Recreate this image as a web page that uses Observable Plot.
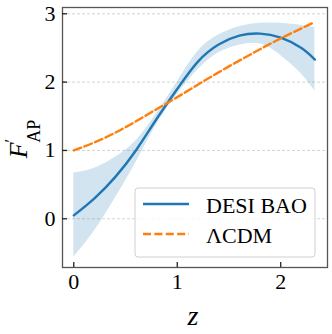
<!DOCTYPE html>
<html>
<head>
<meta charset="utf-8">
<script src="https://cdn.jsdelivr.net/npm/d3@7"></script>
<script src="https://cdn.jsdelivr.net/npm/@observablehq/plot@0.6"></script>
<style>
  html, body { margin: 0; padding: 0; background: #fff; }
  #chart { width: 332px; height: 334px; }
  #chart svg text { font-family: "Liberation Serif", serif; }
</style>
</head>
<body>
<div id="chart"></div>
<script>
// Reconstructed F'_AP(z): DESI BAO reconstruction (mean and band) vs ΛCDM
const zDesi = [0, 0.2, 0.4, 0.6, 0.8, 1.0, 1.2, 1.4, 1.6, 1.8, 2.0, 2.2, 2.33];
const desiMean = [0.05, 0.30, 0.61, 1.00, 1.46, 1.90, 2.30, 2.55, 2.68, 2.71, 2.65, 2.50, 2.33];
const desiLow = [-0.56, -0.18, 0.30, 0.82, 1.38, 1.82, 2.18, 2.43, 2.54, 2.56, 2.39, 2.12, 1.87];
const desiHigh = [0.67, 0.74, 0.90, 1.14, 1.54, 2.00, 2.45, 2.69, 2.81, 2.86, 2.86, 2.83, 2.80];
const zLcdm = [0, 0.25, 0.5, 0.75, 1.0, 1.25, 1.5, 1.75, 2.0, 2.33];
const lcdmVals = [1.00, 1.15, 1.34, 1.56, 1.78, 2.01, 2.23, 2.44, 2.64, 2.88];
const xTicks = [0, 1, 2];
const yTicks = [0, 1, 2, 3];
const seriesNames = ["DESI BAO", "ΛCDM"];

const desi = zDesi.map((z, i) => ({z, mean: desiMean[i], lo: desiLow[i], hi: desiHigh[i]}));
const lcdm = zLcdm.map((z, i) => ({z, v: lcdmVals[i]}));

const BLUE = "#1f77b4", ORANGE = "#ff7f0e";
const DASH = "8,3.4";
const W = 332, H = 334, ML = 62, MR = 5, MT = 7, MB = 67;
const FONT = "Liberation Serif";

const plot = Plot.plot({
  width: W,
  height: H,
  marginLeft: ML,
  marginRight: MR,
  marginTop: MT,
  marginBottom: MB,
  style: {fontFamily: FONT, fontSize: "22px", color: "#000", background: "#fff"},
  x: {domain: [-0.109, 2.452]},
  y: {domain: [-0.713, 3.092]},
  marks: [
    Plot.gridY(yTicks, {stroke: "#bbb", strokeOpacity: 0.8, strokeWidth: 0.8, strokeDasharray: "3,2"}),
    Plot.areaY(desi, {x: "z", y1: "lo", y2: "hi", fill: BLUE, fillOpacity: 0.2, curve: "natural"}),
    Plot.line(desi, {x: "z", y: "mean", stroke: BLUE, strokeWidth: 2.4, curve: "natural"}),
    Plot.line(lcdm, {x: "z", y: "v", stroke: ORANGE, strokeWidth: 2.4, strokeDasharray: DASH, curve: "natural"}),
    Plot.frame({stroke: "#555", strokeWidth: 1.3}),
    Plot.axisX({ticks: xTicks, tickSize: -5, tickPadding: 11, tickFormat: d => String(d), label: null, fontSize: 22, stroke: "#222", strokeWidth: 1.3}),
    Plot.axisY({ticks: yTicks, tickSize: -5, tickPadding: 12, tickFormat: d => String(d), label: null, fontSize: 22, stroke: "#222", strokeWidth: 1.3})
  ]
});

document.getElementById("chart").appendChild(plot);

const svg = d3.select(plot);

// x label
svg.append("text")
  .attr("x", 193).attr("y", 325)
  .attr("text-anchor", "middle")
  .attr("font-family", FONT).attr("font-style", "italic").attr("font-size", 28)
  .attr("fill", "#000")
  .text("z");

// y label F'_AP
const yl = svg.append("text")
  .attr("transform", "translate(27,139) rotate(-90)")
  .attr("text-anchor", "middle")
  .attr("font-family", FONT).attr("fill", "#000");
yl.append("tspan").attr("font-style", "italic").attr("font-size", 26).text("F");
yl.append("tspan").attr("font-size", 17).attr("dy", -11).text("′");
yl.append("tspan").attr("font-size", 18).attr("dx", -4).attr("dy", 24).text("AP");

// legend
const lg = svg.append("g");
lg.append("rect")
  .attr("x", 135).attr("y", 188).attr("width", 180).attr("height", 69)
  .attr("rx", 3).attr("fill", "#fff").attr("fill-opacity", 0.8)
  .attr("stroke", "#d0d0d0").attr("stroke-width", 1);
const items = [
  {name: seriesNames[0], color: BLUE, dash: null, y: 204},
  {name: seriesNames[1], color: ORANGE, dash: DASH, y: 234}
];
items.forEach(it => {
  lg.append("line")
    .attr("x1", 143).attr("x2", 189).attr("y1", it.y).attr("y2", it.y)
    .attr("stroke", it.color).attr("stroke-width", 2.4)
    .attr("stroke-dasharray", it.dash);
  lg.append("text")
    .attr("x", 206).attr("y", it.y + 9)
    .attr("text-anchor", "start")
    .attr("font-family", FONT).attr("font-size", 22).attr("fill", "#000")
    .text(it.name);
});
</script>
</body>
</html>
